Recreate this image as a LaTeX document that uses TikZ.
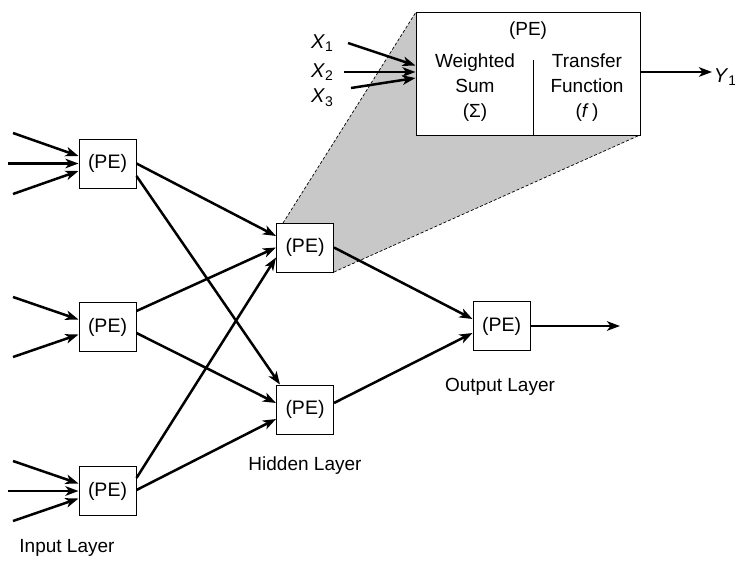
\documentclass[tikz,border=0pt]{standalone}
\usepackage{fontspec}
\setmainfont{Liberation Sans}
\usetikzlibrary{arrows.meta,calc}
\definecolor{wedgegray}{RGB}{200,200,200}
\tikzset{
  pe/.style={draw=black,line width=1pt,fill=white,minimum width=57pt,minimum height=49pt,inner sep=0pt,font=\fontsize{19.5}{22}\selectfont},
  conn/.style={line width=2.5pt,-{Stealth[length=13pt,width=9.5pt,inset=3.5pt]}},
  lbl/.style={font=\fontsize{19}{22}\selectfont,inner sep=0pt},
  guide/.style={line width=0.7pt,dash pattern=on 3pt off 2pt},
}
\newcommand{\subn}[1]{\raisebox{-0.35ex}{\fontsize{14}{16}\selectfont #1}}
\begin{document}
\begin{tikzpicture}[x=1pt,y=-1pt]
\useasboundingbox (0,0) rectangle (735,560);
% gray zoom wedge
\coordinate (w1) at (283,223);
\coordinate (w2) at (416,12);
\coordinate (w3) at (640,135);
\coordinate (w4) at (334,272);
\fill[wedgegray] (w1) -- (w2) -- (w3) -- (w4) -- cycle;
\draw[guide] (w1) -- (w2);
\draw[guide] (w4) -- (w3);
% big PE box
\node[draw=black,line width=1pt,fill=white,minimum width=224pt,minimum height=123pt,inner sep=0pt] (big) at (528,73.5) {};
\draw[line width=1pt] (533,60) coordinate (d1) -- (533,135) coordinate (d2);
\node[lbl] (bigt) at (528,31) {(PE)};
\node[lbl,align=center] (ws) at (475,88) {Weighted\\[3pt]Sum\\[3pt](Σ)};
\node[lbl,align=center] (tf) at (587,88) {Transfer\\[3pt]Function\\[3pt](\textit{f}\,)};
% nodes
\node[pe] (in1) at (107.5,163.5) {(PE)};
\node[pe] (in2) at (107.5,327) {(PE)};
\node[pe] (in3) at (107.5,491) {(PE)};
\node[pe] (h1) at (305,247.5) {(PE)};
\node[pe] (h2) at (305,409.5) {(PE)};
\node[pe] (out) at (501.5,326) {(PE)};
% labels
\node[lbl] (linput) at (67,548) {Input Layer};
\node[lbl] (lhidden) at (305,466) {Hidden Layer};
\node[lbl] (loutput) at (500,387) {Output Layer};
% X inputs
\node[lbl,font=\fontsize{20}{22}\selectfont] (x1) at (322,43) {\textit{X}\subn{1}};
\node[lbl,font=\fontsize{20}{22}\selectfont] (x2) at (322,72) {\textit{X}\subn{2}};
\node[lbl,font=\fontsize{20}{22}\selectfont] (x3) at (322,98) {\textit{X}\subn{3}};
\node[lbl,font=\fontsize{20}{22}\selectfont] (y1) at (725,77) {\textit{Y}\subn{1}};
\coordinate (xs1) at (348,43);
\coordinate (xs2) at (344,72);
\coordinate (xs3) at (351,88);
\draw[conn] (xs1) -- ([yshift=8pt]big.west);
\draw[conn] (xs2) -- ([yshift=1.5pt]big.west);
\draw[conn] (xs3) -- ([yshift=-4.5pt]big.west);
\coordinate (ye) at (712,72);
\draw[conn] ([yshift=1.5pt]big.east) -- (ye);
% inputs to input layer
\coordinate (a1) at (13,133);
\coordinate (a2) at (8,163.5);
\coordinate (a3) at (13,194);
\draw[conn] (a1) -- ([yshift=7.5pt]in1.west);
\draw[conn] (a2) -- (in1.west);
\draw[conn] (a3) -- ([yshift=-7.5pt]in1.west);
\coordinate (b1) at (13,297);
\coordinate (b2) at (13,357);
\draw[conn] (b1) -- ([yshift=7.5pt]in2.west);
\draw[conn] (b2) -- ([yshift=-7.5pt]in2.west);
\coordinate (c1) at (13,461);
\coordinate (c2) at (8,491);
\coordinate (c3) at (13,521);
\draw[conn] (c1) -- ([yshift=7.5pt]in3.west);
\draw[conn] (c2) -- (in3.west);
\draw[conn] (c3) -- ([yshift=-7.5pt]in3.west);
% input -> hidden
\draw[conn] (in1.east) -- ([yshift=11.5pt]h1.west);
\draw[conn] ([yshift=-12.5pt]in1.east) -- ([xshift=4pt]h2.north west);
\draw[conn] ([yshift=16pt]in2.east) -- (h1.west);
\draw[conn] ([yshift=-6pt]in2.east) -- ([yshift=6.5pt]h2.west);
\draw[conn] ([yshift=13pt]in3.east) -- ([yshift=-10pt]h1.west);
\draw[conn] ([yshift=1pt]in3.east) -- ([yshift=-9.5pt]h2.west);
% hidden -> output
\draw[conn] (h1.east) -- ([yshift=7pt]out.west);
\draw[conn] ([yshift=6.5pt]h2.east) -- ([yshift=-7pt]out.west);
\coordinate (oe) at (620,326);
\draw[conn] (out.east) -- (oe);
\end{tikzpicture}
\end{document}
